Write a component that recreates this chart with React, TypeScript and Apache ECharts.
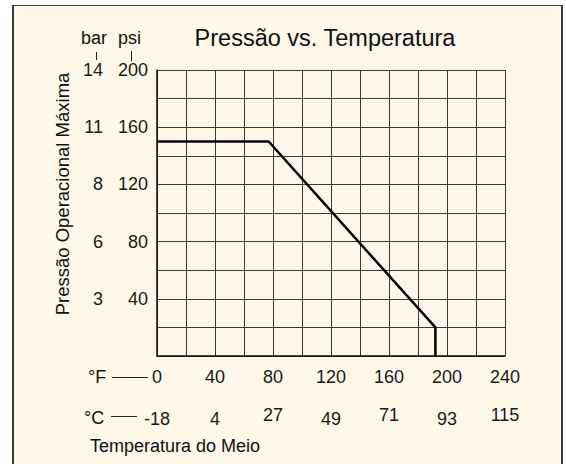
import React, { useEffect, useRef } from 'react';
import * as echarts from 'echarts';

// Data
const tempF = [0, 77, 192, 192];
const pressurePsi = [150, 150, 20, 0];
const barPsiPositions = [40, 80, 120, 160, 200];
const barLabels = ['3', '6', '8', '11', '14'];
const celsiusLabels = ['-18', '4', '27', '49', '71', '93', '115'];
const celsiusRaised = [false, false, true, false, true, false, true];

export default function App() {
  const ref = useRef<HTMLDivElement>(null);
  useEffect(() => {
    const chart = echarts.init(ref.current!, null, { renderer: 'svg' });
    const font = "'Liberation Sans', Arial, Helvetica, sans-serif";
    const lbl = { fontFamily: font, fontSize: 18, color: '#1a1a1a' };
    const cAxis = (raised: boolean, offset: number) => ({
      type: 'value', min: 0, max: 240, interval: 20, position: 'bottom', offset,
      axisLine: { show: false }, axisTick: { show: false }, splitLine: { show: false },
      axisLabel: {
        ...lbl, margin: 12,
        formatter: (v: number) => {
          if (v % 40 !== 0) return '';
          const i = v / 40;
          return celsiusRaised[i] === raised ? celsiusLabels[i] : '';
        },
      },
    });
    const data = tempF.map((t, i) => [t, pressurePsi[i]]);
    const line = '#3a3a3a';
    chart.setOption({
      animation: false,
      backgroundColor: 'transparent',
      grid: { left: 157, top: 70, width: 348, height: 286, containLabel: false },
      xAxis: [
        {
          type: 'value', min: 0, max: 240, interval: 20, position: 'bottom',
          axisLine: { show: true, onZero: false, lineStyle: { color: '#111', width: 1.5 } },
          axisTick: { show: false },
          splitLine: { show: true, lineStyle: { color: line, width: 1 } },
          axisLabel: { ...lbl, margin: 12, formatter: (v: number) => (v % 40 === 0 ? String(v) : '') },
        },
        cAxis(false, 42),
        cAxis(true, 37.5),
      ],
      yAxis: [
        {
          type: 'value', min: 0, max: 200, interval: 20, position: 'left',
          axisLine: { show: true, onZero: false, lineStyle: { color: '#111', width: 1.5 } },
          axisTick: { show: false },
          splitLine: { show: true, lineStyle: { color: line, width: 1 } },
          axisLabel: { ...lbl, margin: 9, formatter: (v: number) => (v > 0 && v % 40 === 0 ? String(v) : '') },
        },
        {
          type: 'value', min: 0, max: 200, interval: 20, position: 'left', offset: 45,
          axisLine: { show: false }, axisTick: { show: false }, splitLine: { show: false },
          axisLabel: {
            ...lbl, margin: 9,
            formatter: (v: number) => {
              const i = barPsiPositions.indexOf(v);
              return i >= 0 ? barLabels[i] : '';
            },
          },
        },
      ],
      series: [
        {
          type: 'line', xAxisIndex: 0, yAxisIndex: 0, data, symbol: 'none',
          lineStyle: { color: '#000', width: 2.5 }, z: 5,
        },
      ],
      graphic: [
        { type: 'text', x: 325, y: 38, style: { text: 'Pressão vs. Temperatura', font: `23.5px ${font}`, fill: '#111', textAlign: 'center', textVerticalAlign: 'middle' } },
        { type: 'text', x: 94, y: 38, style: { text: 'bar', font: `18px ${font}`, fill: '#111', textAlign: 'center', textVerticalAlign: 'middle' } },
        { type: 'text', x: 129.5, y: 38, style: { text: 'psi', font: `18px ${font}`, fill: '#111', textAlign: 'center', textVerticalAlign: 'middle' } },
        { type: 'line', shape: { x1: 96.5, y1: 52, x2: 96.5, y2: 60 }, style: { stroke: '#222', lineWidth: 1 } },
        { type: 'line', shape: { x1: 131.5, y1: 51, x2: 131.5, y2: 61 }, style: { stroke: '#222', lineWidth: 1 } },
        { type: 'text', x: 62, y: 194, rotation: Math.PI / 2, style: { text: 'Pressão Operacional Máxima', font: `18.5px ${font}`, fill: '#111', textAlign: 'center', textVerticalAlign: 'middle' } },
        { type: 'text', x: 88, y: 377, style: { text: '°F', font: `18px ${font}`, fill: '#111', textAlign: 'left', textVerticalAlign: 'middle' } },
        { type: 'line', shape: { x1: 112, y1: 377.5, x2: 148, y2: 377.5 }, style: { stroke: '#222', lineWidth: 1 } },
        { type: 'text', x: 84, y: 417.5, style: { text: '°C', font: `18px ${font}`, fill: '#111', textAlign: 'left', textVerticalAlign: 'middle' } },
        { type: 'line', shape: { x1: 111, y1: 416.5, x2: 137, y2: 416.5 }, style: { stroke: '#222', lineWidth: 1 } },
        { type: 'text', x: 90, y: 446, style: { text: 'Temperatura do Meio', font: `18px ${font}`, fill: '#111', textAlign: 'left', textVerticalAlign: 'middle' } },
      ],
    });
    return () => chart.dispose();
  }, []);
  return (
    <div style={{ position: 'fixed', left: 0, top: 0, width: 566, height: 464, background: '#fff', overflow: 'hidden' }}>
      <div
        style={{
          position: 'absolute', left: 12, top: 5, width: 551, height: 470, boxSizing: 'border-box',
          background: '#fdf6e9', borderLeft: '2px solid #3d3d3d', borderTop: '1px solid #3d3d3d', borderRight: '2px solid #3d3d3d',
        }}
      />
      <div ref={ref} style={{ position: 'absolute', left: 0, top: 0, width: 566, height: 464 }} />
    </div>
  );
}
